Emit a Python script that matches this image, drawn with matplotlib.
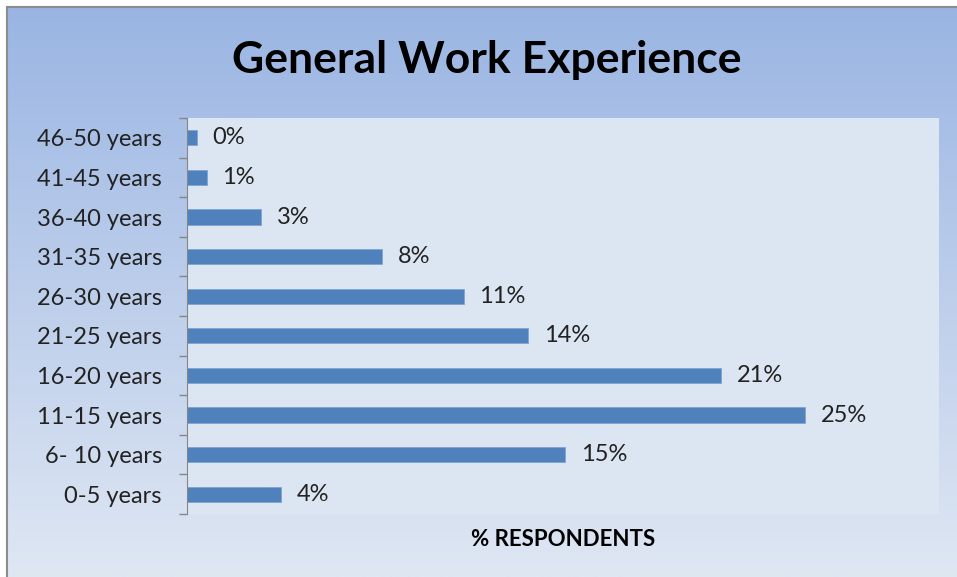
import numpy as np
import matplotlib
matplotlib.use("Agg")
import matplotlib.pyplot as plt

plt.rcParams['font.family'] = ['Lato', 'DejaVu Sans']

categories = ['0-5 years', '6- 10 years', '11-15 years', '16-20 years', '21-25 years',
              '26-30 years', '31-35 years', '36-40 years', '41-45 years', '46-50 years']
values = [3.8, 15.3, 25.0, 21.6, 13.8, 11.2, 7.9, 3.0, 0.8, 0.4]
labels = ['4%', '15%', '25%', '21%', '14%', '11%', '8%', '3%', '1%', '0%']

W, H = 957, 577
fig = plt.figure(figsize=(W / 100, H / 100), dpi=100)
fig.patch.set_facecolor('white')

# chart area with vertical gradient
bg = fig.add_axes([7 / W, 0, 1 - 7 / W, 1 - 7 / H])
top = np.array([0x9a, 0xb5, 0xe3]) / 255
bot = np.array([0xdf, 0xe7, 0xf3]) / 255
t = np.linspace(0, 1, 256)[:, None]
grad = top * (1 - t) + bot * t
bg.imshow(grad[:, None, :], aspect='auto', extent=[0, 1, 0, 1])
bg.set_xticks([])
bg.set_yticks([])
for s in bg.spines.values():
    s.set_color('#8c8c8c')
    s.set_linewidth(1.5)
bg.spines['right'].set_visible(False)
bg.spines['bottom'].set_visible(False)

ax = fig.add_axes([187 / W, 1 - 514 / H, (939 - 187) / W, (514 - 118) / H])
ax.set_facecolor('#dce6f2')
y = np.arange(len(categories))
ax.barh(y, values, height=0.38, color='#4f81bd', edgecolor='#7fa3d0', linewidth=0.6)
for yi, v, lab in zip(y, values, labels):
    ax.annotate(lab, (v, yi), xytext=(11, 0), textcoords='offset points',
                va='center', ha='left', fontsize=17, color='#222222')

ax.set_xlim(0, 30.4)
ax.set_ylim(-0.5, 9.5)
ax.set_yticks(y)
ax.set_yticklabels(categories, fontsize=17, color='#222222')
ax.set_yticks(np.arange(-0.5, 10, 1), minor=True)
ax.tick_params(axis='y', which='major', length=0, pad=18)
ax.tick_params(axis='y', which='minor', length=6, color='#868686', width=1)
ax.set_xticks([])
for s in ['top', 'right', 'bottom']:
    ax.spines[s].set_visible(False)
ax.spines['left'].set_color('#868686')
ax.set_xlabel('% RESPONDENTS', fontsize=16, fontweight='bold', labelpad=11)

fig.text(487 / W, 1 - 60 / H, 'General Work Experience', ha='center', va='center',
         fontsize=32, fontweight='bold')

fig.savefig('out.png', dpi=100)
